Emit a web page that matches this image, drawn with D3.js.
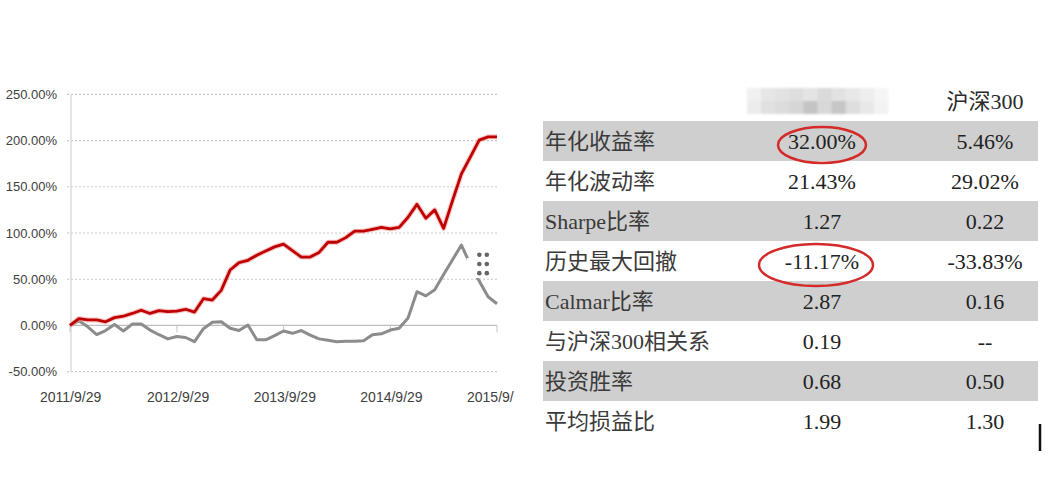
<!DOCTYPE html>
<html>
<head>
<meta charset="utf-8">
<script src="https://cdn.jsdelivr.net/npm/d3@7"></script>
<style>
  body { margin: 0; background: #fff; }
  .ylab { font: 13px "Liberation Sans", Arial, sans-serif; fill: #404040; }
  .xlab { font: 14px "Liberation Sans", Arial, sans-serif; fill: #404040; }
  .cell { font-size: 22px; font-family: "Liberation Serif", "Noto Sans CJK SC", serif; }
</style>
</head>
<body>
<div id="vis"></div>
<script>
// monthly points, 2011/9/29 .. 2015/9/29
var months = ["2011-09","2011-10","2011-11","2011-12","2012-01","2012-02","2012-03","2012-04","2012-05","2012-06","2012-07","2012-08",
              "2012-09","2012-10","2012-11","2012-12","2013-01","2013-02","2013-03","2013-04","2013-05","2013-06","2013-07","2013-08",
              "2013-09","2013-10","2013-11","2013-12","2014-01","2014-02","2014-03","2014-04","2014-05","2014-06","2014-07","2014-08",
              "2014-09","2014-10","2014-11","2014-12","2015-01","2015-02","2015-03","2015-04","2015-05","2015-06","2015-07","2015-08","2015-09"];

// strategy (red) cumulative return, %
var fundRet = [0, 7.5, 6, 6, 4, 8.5, 10, 13, 16.5, 13, 16, 15,
               15.5, 17.5, 14.5, 29, 27.5, 38, 60, 68, 70.5, 76, 80.5, 85,
               88, 81, 74, 74, 79, 90, 90, 95, 102, 102, 104, 106,
               104.5, 106, 117, 131, 116, 125, 105, 135, 164, 182, 200.5, 204, 204];

// 沪深300 (gray) cumulative return, %
var hs300Ret = [0, 5, -1.5, -10, -5.5, 1, -6, 1.5, 1.5, -5, -10, -14.5,
                -12, -13, -17.5, -3.5, 3.5, 4, -3, -5.5, 0.5, -15.5, -15.5, -11,
                -6, -8.5, -5.5, -10.5, -14.5, -16, -17.5, -17, -17, -16.5, -10, -9,
                -5, -3, 8, 36.5, 32, 38.5, 55, 71, 87, 66, 48, 31, 23.5];

var yTicks = [-50, 0, 50, 100, 150, 200, 250];
var xTickDates = ["2011-09-29", "2012-09-29", "2013-09-29", "2014-09-29", "2015-09-29"];
var xTickLabels = ["2011/9/29", "2012/9/29", "2013/9/29", "2014/9/29", "2015/9/"];

// table
var headers = ["", "沪深300"];
var rowLabels = ["年化收益率", "年化波动率", "Sharpe比率", "历史最大回撤", "Calmar比率", "与沪深300相关系", "投资胜率", "平均损益比"];
var fundVals = ["32.00%", "21.43%", "1.27", "-11.17%", "2.87", "0.19", "0.68", "1.99"];
var hs300Vals = ["5.46%", "29.02%", "0.22", "-33.83%", "0.16", "--", "0.50", "1.30"];
var circled = [0, 3];

// blurred header mosaic shades
var mosaicTop = ["#f0f0f0","#e6e6e6","#e2e2e2","#dedede","#e4e4e4","#dadada","#e2e2e2","#e8e8e8","#eeeeee","#f5f5f5"];
var mosaicBot = ["#ececec","#e0e0e0","#dcdcdc","#d6d6d6","#c4c4c4","#d8d8d8","#c6c6c6","#dedede","#e8e8e8","#f3f3f3"];

var w = 1058, h = 500;
var parseD = d3.timeParse("%Y-%m-%d");

var svg = d3.select("#vis").append("svg")
    .attr("width", w)
    .attr("height", h);

svg.append("rect").attr("width", w).attr("height", h).attr("fill", "#fff");

// ---------- line chart ----------
var x = d3.scaleTime()
    .domain([parseD("2011-09-29"), parseD("2015-09-29")])
    .range([70, 497]);
var y = d3.scaleLinear().domain([-50, 250]).range([371.7, 94.3]);

// place monthly points evenly on the time axis
var xi = d3.scaleLinear().domain([0, months.length - 1]).range(x.range());

var chart = svg.append("g");

chart.selectAll(".grid")
    .data(yTicks.filter(function(d) { return d != 0; }))
    .enter().append("line")
    .attr("x1", 67).attr("x2", x.range()[1])
    .attr("y1", function(d) { return y(d); })
    .attr("y2", function(d) { return y(d); })
    .attr("stroke", "#c8c8c8")
    .attr("stroke-width", 1.2)
    .attr("stroke-dasharray", "2,2");

// left axis line
chart.append("line")
    .attr("x1", 71).attr("x2", 71)
    .attr("y1", y(250)).attr("y2", y(-50))
    .attr("stroke", "#d4d4d4").attr("stroke-width", 1.2);

// zero axis + ticks
chart.append("line")
    .attr("x1", 71).attr("x2", x.range()[1])
    .attr("y1", y(0)).attr("y2", y(0))
    .attr("stroke", "#bdbdbd").attr("stroke-width", 1.2);

chart.selectAll(".xTicks")
    .data(xTickDates)
    .enter().append("line")
    .attr("x1", function(d) { return x(parseD(d)); })
    .attr("x2", function(d) { return x(parseD(d)); })
    .attr("y1", y(0)).attr("y2", y(0) + 7)
    .attr("stroke", "#c4c4c4").attr("stroke-width", 1);

chart.selectAll(".ylab")
    .data(yTicks)
    .enter().append("text")
    .attr("class", "ylab")
    .attr("x", 57)
    .attr("y", function(d) { return y(d); })
    .attr("dy", "0.35em")
    .attr("text-anchor", "end")
    .text(function(d) { return d.toFixed(2) + "%"; });

chart.selectAll(".xlab")
    .data(xTickLabels)
    .enter().append("text")
    .attr("class", "xlab")
    .attr("x", function(d, i) { return x(parseD(xTickDates[i])) - 30; })
    .attr("y", 402)
    .text(String);

var line = d3.line()
    .x(function(d, i) { return xi(i); })
    .y(function(d) { return y(d); });

chart.append("path")
    .datum(hs300Ret)
    .attr("d", line)
    .attr("fill", "none")
    .attr("stroke", "#8c8c8c")
    .attr("stroke-width", 3)
    .attr("stroke-linejoin", "round");

// halo + red line
chart.append("path")
    .datum(fundRet)
    .attr("d", line)
    .attr("fill", "none")
    .attr("stroke", "#f0a0a0")
    .attr("stroke-width", 5)
    .attr("stroke-opacity", 0.6)
    .attr("stroke-linejoin", "round");
chart.append("path")
    .datum(fundRet)
    .attr("d", line)
    .attr("fill", "none")
    .attr("stroke", "#c00000")
    .attr("stroke-width", 2.8)
    .attr("stroke-linejoin", "round");

// drag-handle dots over a white patch (hides part of the gray line)
var hx = xi(45.9) + 1, hy = y(76.5);
chart.append("rect")
    .attr("x", xi(44.6)).attr("y", y(73))
    .attr("width", 26).attr("height", 20)
    .attr("fill", "#fff");
var dots = [];
[0, 1].forEach(function(c) { [0, 1, 2].forEach(function(r) { dots.push([c, r]); }); });
chart.selectAll(".dot")
    .data(dots)
    .enter().append("circle")
    .attr("cx", function(d) { return hx + d[0] * 7.5; })
    .attr("cy", function(d) { return hy + d[1] * 9.2; })
    .attr("r", 2.3)
    .attr("fill", "#666");

// ---------- table ----------
var rows = d3.scaleBand().domain(d3.range(rowLabels.length)).range([121, 441]);
var colX = [545, 822, 985];

var table = svg.append("g");

table.selectAll(".band")
    .data(rowLabels.map(function(d, i) { return i; }).filter(function(i) { return i % 2 == 0; }))
    .enter().append("rect")
    .attr("x", 543).attr("width", 495)
    .attr("y", function(i) { return rows(i); })
    .attr("height", rows.bandwidth())
    .attr("fill", "#cfcfcf");

// blurred header (mosaic)
var defs = svg.append("defs");
defs.append("filter").attr("id", "soft")
    .append("feGaussianBlur").attr("stdDeviation", 1);
var mx = d3.scaleBand().domain(d3.range(mosaicTop.length)).range([747, 888]);
var mos = table.append("g").attr("filter", "url(#soft)");
[mosaicTop, mosaicBot].forEach(function(arr, r) {
    mos.selectAll(".m" + r)
        .data(arr)
        .enter().append("rect")
        .attr("x", function(d, i) { return mx(i); })
        .attr("y", 88 + r * 13)
        .attr("width", mx.bandwidth() + 0.5)
        .attr("height", 13)
        .attr("fill", String);
});

table.append("text")
    .attr("class", "cell")
    .attr("x", colX[2])
    .attr("y", rows(0) - 20)
    .attr("dy", "0.36em")
    .attr("text-anchor", "middle")
    .attr("fill", "#2a2a2a")
    .text(headers[1]);

table.selectAll(".lab")
    .data(rowLabels)
    .enter().append("text")
    .attr("class", "cell")
    .attr("x", colX[0])
    .attr("y", function(d, i) { return rows(i) + rows.bandwidth() / 2; })
    .attr("dy", "0.36em")
    .attr("fill", "#3a3a3a")
    .text(String);

[fundVals, hs300Vals].forEach(function(vals, c) {
    table.selectAll(".v" + c)
        .data(vals)
        .enter().append("text")
        .attr("class", "cell")
        .attr("x", colX[c + 1])
        .attr("y", function(d, i) { return rows(i) + rows.bandwidth() / 2; })
        .attr("dy", "0.36em")
        .attr("text-anchor", "middle")
        .attr("fill", "#222")
        .text(String);
});

// red circles
table.selectAll(".ring")
    .data(circled)
    .enter().append("ellipse")
    .attr("cx", function(d, i) { return i == 0 ? 822 : 816; })
    .attr("cy", function(d) { return rows(d) + rows.bandwidth() / 2 + 4; })
    .attr("rx", function(d, i) { return i == 0 ? 44 : 57; })
    .attr("ry", function(d, i) { return i == 0 ? 18 : 21; })
    .attr("fill", "none")
    .attr("stroke", "#d42a2a")
    .attr("stroke-width", 2.5);

// small cursor-like bar
table.append("line")
    .attr("x1", 1040).attr("x2", 1040)
    .attr("y1", rows(7) + 23).attr("y2", rows(7) + 50)
    .attr("stroke", "#111").attr("stroke-width", 2.5);
</script>
</body>
</html>
